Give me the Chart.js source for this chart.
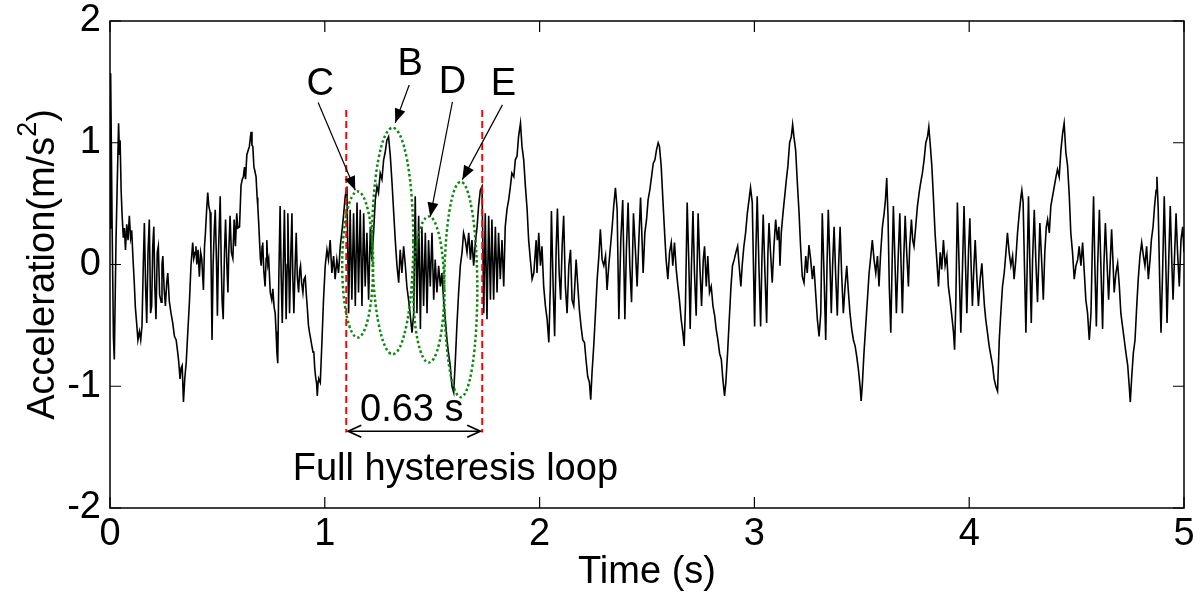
<!DOCTYPE html>
<html>
<head>
<meta charset="utf-8">
<script src="https://cdn.jsdelivr.net/npm/chart.js@4.4.1/dist/chart.umd.min.js"></script>
<style>
html,body{margin:0;padding:0;background:#fff;}
#wrap{width:1200px;height:595px;position:relative;}
</style>
</head>
<body>
<div id="wrap"><canvas id="c" width="1200" height="595"></canvas></div>
<script>
// ---- Data: [time (s), acceleration (m/s^2)] ----
const accel_0to1s = [[0.000,0.30],[0.003,1.57],[0.010,0.30],[0.016,-0.60],[0.020,-0.78],[0.028,0.20],[0.036,0.85],[0.040,1.16],[0.044,0.90],[0.047,1.02],[0.052,0.60],[0.056,0.42],[0.062,0.22],[0.067,0.30],[0.072,0.12],[0.078,0.33],[0.084,0.20],[0.090,0.40],[0.096,0.22],[0.101,0.28],[0.107,0.05],[0.113,-0.15],[0.118,-0.35],[0.124,-0.48],[0.130,-0.62],[0.137,-0.55],[0.143,-0.62],[0.149,-0.50],[0.155,0.00],[0.160,0.34],[0.166,-0.20],[0.171,-0.48],[0.177,0.10],[0.183,0.37],[0.189,-0.40],[0.194,-0.34],[0.199,0.15],[0.204,0.31],[0.209,-0.20],[0.214,-0.45],[0.220,0.10],[0.225,0.15],[0.231,-0.25],[0.238,-0.31],[0.242,0.00],[0.246,0.07],[0.252,-0.20],[0.258,-0.34],[0.264,-0.15],[0.269,-0.07],[0.276,-0.30],[0.284,-0.40],[0.292,-0.48],[0.300,-0.59],[0.308,-0.62],[0.315,-0.72],[0.320,-0.80],[0.326,-0.94],[0.331,-0.85],[0.336,-0.83],[0.342,-1.13],[0.348,-0.94],[0.355,-0.80],[0.362,-0.56],[0.370,-0.30],[0.377,-0.01],[0.385,0.18],[0.390,0.05],[0.396,0.10],[0.400,0.15],[0.404,0.00],[0.410,0.12],[0.416,-0.10],[0.422,0.10],[0.427,0.05],[0.435,-0.21],[0.440,0.15],[0.444,0.25],[0.450,0.45],[0.455,0.59],[0.460,0.48],[0.466,0.43],[0.470,0.10],[0.475,-0.62],[0.480,0.00],[0.486,0.31],[0.490,0.45],[0.496,0.00],[0.500,-0.42],[0.505,0.10],[0.513,0.56],[0.518,0.00],[0.522,-0.30],[0.527,-0.45],[0.533,0.10],[0.538,0.37],[0.544,0.00],[0.549,-0.23],[0.553,0.10],[0.559,0.40],[0.565,0.10],[0.572,0.05],[0.578,0.37],[0.584,0.15],[0.590,0.42],[0.595,0.30],[0.603,0.31],[0.610,0.65],[0.616,0.70],[0.621,0.72],[0.626,0.80],[0.631,0.70],[0.637,0.90],[0.642,0.93],[0.649,0.97],[0.654,1.05],[0.657,1.09],[0.661,0.98],[0.665,0.97],[0.670,0.80],[0.673,0.78],[0.680,0.72],[0.685,0.55],[0.688,0.48],[0.692,0.35],[0.696,0.20],[0.700,0.05],[0.704,-0.01],[0.708,0.15],[0.711,0.18],[0.716,-0.05],[0.722,-0.18],[0.727,0.05],[0.730,0.20],[0.735,0.00],[0.739,0.04],[0.746,-0.23],[0.753,-0.29],[0.758,-0.20],[0.764,-0.35],[0.769,-0.40],[0.773,-0.55],[0.777,-0.72],[0.781,-0.81],[0.786,-0.10],[0.792,0.48],[0.797,-0.10],[0.802,-0.48],[0.807,0.00],[0.812,0.45],[0.816,0.00],[0.820,-0.45],[0.825,0.00],[0.828,0.42],[0.832,0.00],[0.836,-0.40],[0.842,0.10],[0.847,0.42],[0.851,-0.10],[0.856,-0.40],[0.862,0.00],[0.867,0.26],[0.872,-0.10],[0.878,-0.23],[0.883,-0.05],[0.887,-0.01],[0.892,-0.15],[0.898,-0.23],[0.903,-0.12],[0.909,-0.10],[0.914,-0.25],[0.918,-0.34],[0.924,-0.50],[0.929,-0.56],[0.935,-0.62],[0.940,-0.67],[0.945,-0.72],[0.949,-0.72],[0.953,-0.85],[0.957,-0.92],[0.962,-0.98],[0.965,-1.08],[0.969,-0.96],[0.972,-0.94]];
const accel_1to2s = [[0.979,-0.97],[0.987,-0.62],[0.994,-0.29],[1.002,-0.01],[1.010,0.12],[1.017,0.04],[1.025,0.20],[1.033,-0.07],[1.041,0.07],[1.048,-0.12],[1.056,0.04],[1.064,-0.07],[1.072,0.15],[1.079,0.26],[1.087,0.40],[1.095,0.56],[1.103,0.64],[1.111,-0.40],[1.118,0.45],[1.126,-0.29],[1.134,0.42],[1.142,-0.34],[1.150,0.51],[1.157,-0.23],[1.165,0.45],[1.173,-0.34],[1.181,0.42],[1.188,-0.18],[1.196,0.26],[1.204,-0.29],[1.212,0.31],[1.219,0.04],[1.227,0.26],[1.235,0.53],[1.243,0.64],[1.250,0.59],[1.258,0.75],[1.266,0.70],[1.274,0.86],[1.281,0.92],[1.289,1.02],[1.297,1.05],[1.305,0.89],[1.313,0.67],[1.320,0.45],[1.328,0.20],[1.336,-0.01],[1.344,-0.15],[1.351,0.12],[1.359,-0.07],[1.367,0.15],[1.375,-0.01],[1.382,-0.18],[1.390,-0.29],[1.398,-0.42],[1.406,-0.56],[1.414,-0.40],[1.421,0.56],[1.429,-0.40],[1.437,0.40],[1.445,-0.53],[1.452,0.31],[1.460,-0.34],[1.468,0.26],[1.476,-0.40],[1.483,0.20],[1.491,-0.18],[1.499,0.26],[1.507,-0.29],[1.514,0.04],[1.522,-0.23],[1.530,-0.01],[1.538,-0.18],[1.545,-0.07],[1.553,-0.29],[1.561,-0.45],[1.569,-0.62],[1.576,-0.73],[1.584,-0.83],[1.592,-1.00],[1.600,-1.05],[1.608,-0.78],[1.615,-0.50],[1.623,-0.23],[1.631,-0.01],[1.639,0.10],[1.646,0.26],[1.654,0.20],[1.662,0.10],[1.670,0.26],[1.678,0.04],[1.685,0.20],[1.693,-0.01],[1.701,0.18],[1.709,0.31],[1.716,0.48],[1.724,0.61],[1.732,0.64],[1.740,-0.40],[1.747,0.42],[1.755,-0.45],[1.763,0.40],[1.771,-0.29],[1.778,0.37],[1.786,-0.29],[1.794,0.31],[1.802,-0.23],[1.809,0.26],[1.817,-0.12],[1.825,0.20],[1.833,-0.18],[1.840,0.31],[1.848,0.45],[1.856,0.53],[1.864,0.64],[1.871,0.75],[1.880,0.72],[1.887,0.86],[1.895,0.89],[1.902,1.05],[1.911,1.16],[1.918,0.97],[1.926,0.86],[1.934,0.64],[1.942,0.45],[1.949,0.20],[1.957,0.04],[1.965,-0.12],[1.973,-0.07]];
const accel_2to3s = [[1.984,0.20],[1.988,-0.07],[1.996,0.26],[2.004,-0.01],[2.011,0.15],[2.019,-0.18],[2.027,-0.34],[2.035,-0.45],[2.043,-0.64],[2.050,-0.18],[2.055,0.44],[2.063,-0.18],[2.070,-0.59],[2.077,0.12],[2.083,0.46],[2.091,-0.07],[2.098,-0.29],[2.105,0.15],[2.112,0.40],[2.120,-0.18],[2.128,-0.40],[2.136,-0.01],[2.144,0.12],[2.151,-0.29],[2.159,-0.34],[2.170,0.04],[2.178,-0.18],[2.185,-0.37],[2.193,-0.51],[2.201,-0.62],[2.209,-0.64],[2.216,-0.78],[2.224,-0.92],[2.232,-0.97],[2.238,-1.11],[2.244,-0.89],[2.252,-0.67],[2.260,-0.40],[2.268,-0.12],[2.276,0.07],[2.283,0.29],[2.291,0.04],[2.299,-0.01],[2.307,0.07],[2.314,-0.21],[2.322,-0.01],[2.330,0.15],[2.338,0.31],[2.345,0.48],[2.353,0.63],[2.361,0.45],[2.369,-0.45],[2.378,0.20],[2.387,0.53],[2.397,-0.45],[2.404,0.12],[2.412,0.51],[2.420,-0.01],[2.428,-0.31],[2.437,0.42],[2.446,0.12],[2.454,-0.18],[2.462,0.20],[2.470,0.55],[2.477,0.20],[2.482,-0.07],[2.490,0.26],[2.498,0.37],[2.505,0.53],[2.513,0.61],[2.521,0.72],[2.529,0.83],[2.537,0.86],[2.544,0.94],[2.552,1.00],[2.558,0.97],[2.566,0.81],[2.574,0.53],[2.582,0.26],[2.589,0.04],[2.597,-0.12],[2.605,0.10],[2.613,0.18],[2.620,-0.01],[2.628,0.18],[2.636,-0.04],[2.644,-0.18],[2.651,-0.29],[2.659,-0.45],[2.667,-0.56],[2.673,-0.67],[2.679,-0.34],[2.687,0.51],[2.695,-0.01],[2.701,-0.53],[2.707,-0.01],[2.714,0.44],[2.721,-0.07],[2.729,-0.42],[2.738,0.42],[2.746,-0.01],[2.754,-0.34],[2.762,0.04],[2.768,0.15],[2.776,-0.18],[2.783,0.07],[2.791,-0.23],[2.799,-0.18],[2.807,-0.34],[2.815,-0.42],[2.822,-0.53],[2.830,-0.62],[2.838,-0.73],[2.846,-0.78],[2.853,-0.94],[2.861,-1.08],[2.867,-0.97],[2.875,-0.73],[2.883,-0.45],[2.891,-0.18],[2.898,-0.01],[2.906,0.04],[2.914,0.10],[2.922,0.15],[2.929,-0.01],[2.937,-0.18],[2.943,-0.01],[2.951,0.15],[2.959,0.26],[2.967,0.42],[2.975,0.53],[2.982,0.63],[2.990,0.51]];
const accel_3to4s = [[3.001,-0.51],[3.007,0.12],[3.013,0.56],[3.021,-0.01],[3.029,-0.51],[3.035,0.04],[3.041,0.41],[3.049,-0.07],[3.057,-0.48],[3.063,0.10],[3.068,0.34],[3.075,0.10],[3.083,-0.15],[3.091,0.15],[3.099,0.37],[3.107,0.20],[3.114,0.31],[3.119,-0.01],[3.125,0.26],[3.133,0.42],[3.141,0.56],[3.149,0.70],[3.156,0.81],[3.164,1.00],[3.172,1.05],[3.178,1.15],[3.184,1.05],[3.192,0.94],[3.200,0.67],[3.208,0.42],[3.215,0.15],[3.223,-0.10],[3.231,-0.15],[3.239,0.07],[3.246,-0.07],[3.254,0.16],[3.262,0.04],[3.270,-0.12],[3.277,-0.01],[3.285,-0.23],[3.293,-0.45],[3.301,-0.59],[3.309,-0.40],[3.316,0.42],[3.324,-0.07],[3.332,-0.62],[3.338,-0.01],[3.344,0.45],[3.352,-0.01],[3.358,-0.40],[3.364,-0.01],[3.371,0.31],[3.378,-0.07],[3.386,-0.42],[3.392,-0.01],[3.399,0.31],[3.406,-0.07],[3.414,-0.40],[3.422,-0.18],[3.430,-0.01],[3.437,-0.21],[3.445,-0.40],[3.453,-0.53],[3.461,-0.62],[3.469,-0.67],[3.476,-0.75],[3.484,-0.86],[3.492,-1.00],[3.497,-1.12],[3.503,-0.97],[3.510,-0.73],[3.518,-0.51],[3.526,-0.29],[3.534,-0.07],[3.542,0.07],[3.549,0.20],[3.557,0.04],[3.565,-0.07],[3.573,0.07],[3.580,-0.18],[3.588,0.10],[3.596,0.31],[3.604,0.42],[3.610,0.53],[3.616,0.71],[3.622,0.40],[3.628,-0.18],[3.635,-0.56],[3.641,-0.01],[3.647,0.48],[3.655,-0.01],[3.661,-0.40],[3.669,0.04],[3.677,0.42],[3.683,-0.01],[3.689,-0.40],[3.695,0.04],[3.702,0.40],[3.709,0.10],[3.717,-0.18],[3.723,0.15],[3.731,0.37],[3.737,0.20],[3.743,0.15],[3.751,0.31],[3.759,0.48],[3.767,0.59],[3.774,0.67],[3.782,0.75],[3.790,0.86],[3.798,1.00],[3.806,1.05],[3.812,1.13],[3.818,1.00],[3.826,0.81],[3.834,0.53],[3.841,0.26],[3.849,0.04],[3.857,-0.18],[3.865,0.10],[3.872,-0.04],[3.880,0.20],[3.888,-0.01],[3.896,0.07],[3.903,-0.18],[3.911,-0.29],[3.919,-0.42],[3.927,-0.56],[3.932,-0.70],[3.938,-0.29],[3.945,0.51],[3.953,-0.01],[3.961,-0.56],[3.969,-0.01],[3.976,0.48],[3.983,-0.01],[3.989,-0.40],[3.997,0.12]];
const accel_4to5s = [[4.003,0.38],[4.009,-0.01],[4.015,-0.34],[4.022,-0.01],[4.028,0.20],[4.036,-0.12],[4.043,-0.34],[4.051,-0.12],[4.059,0.01],[4.065,-0.18],[4.071,-0.34],[4.077,-0.45],[4.085,-0.56],[4.093,-0.67],[4.101,-0.75],[4.109,-0.83],[4.116,-0.94],[4.124,-1.00],[4.132,-1.04],[4.140,-0.62],[4.147,-0.40],[4.155,-0.18],[4.163,-0.07],[4.171,0.10],[4.178,0.26],[4.186,0.10],[4.194,-0.01],[4.202,0.07],[4.209,-0.12],[4.217,0.04],[4.225,0.26],[4.233,0.42],[4.241,0.56],[4.245,0.61],[4.251,0.51],[4.258,-0.07],[4.264,-0.56],[4.270,-0.01],[4.276,0.56],[4.282,0.04],[4.289,-0.48],[4.295,0.04],[4.303,0.45],[4.310,0.04],[4.318,-0.31],[4.324,0.04],[4.329,0.34],[4.337,0.04],[4.345,-0.29],[4.352,0.10],[4.359,0.31],[4.365,0.37],[4.373,0.26],[4.380,0.48],[4.388,0.56],[4.396,0.64],[4.404,0.72],[4.411,0.78],[4.419,0.72],[4.427,0.94],[4.435,1.08],[4.442,1.16],[4.450,0.92],[4.458,0.81],[4.466,0.56],[4.473,0.26],[4.481,0.10],[4.489,-0.12],[4.497,-0.01],[4.505,0.04],[4.512,0.15],[4.520,-0.01],[4.528,0.18],[4.536,-0.07],[4.543,-0.29],[4.551,-0.40],[4.559,-0.62],[4.567,-0.40],[4.573,0.12],[4.579,0.56],[4.585,-0.01],[4.592,-0.51],[4.598,-0.01],[4.606,0.45],[4.613,-0.01],[4.621,-0.53],[4.627,-0.01],[4.634,0.34],[4.641,0.04],[4.649,-0.29],[4.657,0.04],[4.663,0.29],[4.669,0.04],[4.675,-0.23],[4.683,-0.07],[4.691,0.01],[4.699,-0.18],[4.706,-0.40],[4.714,-0.51],[4.722,-0.62],[4.730,-0.73],[4.738,-0.83],[4.745,-1.00],[4.750,-1.13],[4.756,-0.94],[4.764,-0.73],[4.772,-0.62],[4.780,-0.34],[4.787,-0.12],[4.795,0.07],[4.803,0.18],[4.811,0.07],[4.818,-0.01],[4.826,0.15],[4.834,-0.12],[4.842,0.04],[4.848,0.20],[4.856,0.31],[4.863,0.48],[4.870,0.61],[4.874,0.72],[4.880,0.45],[4.887,-0.15],[4.893,-0.56],[4.901,-0.01],[4.908,0.56],[4.915,0.04],[4.921,-0.48],[4.929,0.04],[4.936,0.48],[4.943,0.04],[4.949,-0.29],[4.957,0.12],[4.963,0.42],[4.970,0.10],[4.978,-0.18],[4.986,0.20],[4.994,0.31],[5.000,0.10]];

const xTickValues = [0, 1, 2, 3, 4, 5];
const yTickValues = [-2, -1, 0, 1, 2];
const xAxisTitle = 'Time (s)';
const yAxisTitleMain = 'Acceleration(m/s';
const yAxisTitleSup = '2';
const yAxisTitleEnd = ')';

// ---- Annotation values (in data units: time s, acceleration m/s^2) ----
const loopBounds = [1.10, 1.733];          // red dashed lines
const loopLineSpan = [1.27, -1.38];        // vertical extent of red lines
const periodArrowLevel = -1.37;            // double arrow
const periodLabel = { text: '0.63 s', t: 1.405, a: -1.287 };
const loopCaption = { text: 'Full hysteresis loop', t: 1.608, a: -1.77 };
const stageNames = ['C', 'B', 'D', 'E'];
const stageTextAt = [[0.979, 1.393], [1.398, 1.557], [1.594, 1.41], [1.831, 1.393]];
const stageArrowFrom = [[0.969, 1.33], [1.393, 1.475], [1.594, 1.336], [1.827, 1.311]];
const stageArrowTo = [[1.142, 0.61], [1.328, 1.164], [1.491, 0.393], [1.640, 0.697]];
const stageEllipses = [[1.153, 0.0, 0.072, 0.60], [1.316, 0.193, 0.096, 0.93], [1.484, -0.205, 0.072, 0.60], [1.633, -0.205, 0.077, 0.885]];

const FONT = "'Liberation Sans', Arial, Helvetica, sans-serif";

const allPoints = [].concat(accel_0to1s, accel_1to2s, accel_2to3s, accel_3to4s, accel_4to5s)
  .map(p => ({ x: p[0], y: p[1] }));

function arrowHead(ctx, x1, y1, x2, y2, len, half, filled) {
  const ang = Math.atan2(y2 - y1, x2 - x1);
  const bx = x2 - len * Math.cos(ang), by = y2 - len * Math.sin(ang);
  const px = -Math.sin(ang) * half, py = Math.cos(ang) * half;
  ctx.beginPath();
  ctx.moveTo(bx + px, by + py);
  ctx.lineTo(x2, y2);
  ctx.lineTo(bx - px, by - py);
  if (filled) { ctx.closePath(); ctx.fill(); } else { ctx.stroke(); }
}

const framePlugin = {
  id: 'frameAndNotes',
  afterDatasetsDraw(chart) {
    const { ctx, chartArea: ca, scales: { x, y } } = chart;
    ctx.save();
    // box
    ctx.strokeStyle = '#000';
    ctx.lineWidth = 1.5;
    ctx.setLineDash([]);
    ctx.strokeRect(ca.left, ca.top, ca.right - ca.left, ca.bottom - ca.top);
    // inward ticks on all four sides
    ctx.lineWidth = 1.2;
    const tl = 11;
    xTickValues.forEach(v => {
      const px = x.getPixelForValue(v);
      ctx.beginPath();
      ctx.moveTo(px, ca.bottom); ctx.lineTo(px, ca.bottom - tl);
      ctx.moveTo(px, ca.top); ctx.lineTo(px, ca.top + tl);
      ctx.stroke();
    });
    yTickValues.forEach(v => {
      const py = y.getPixelForValue(v);
      ctx.beginPath();
      ctx.moveTo(ca.left, py); ctx.lineTo(ca.left + tl, py);
      ctx.moveTo(ca.right, py); ctx.lineTo(ca.right - tl, py);
      ctx.stroke();
    });

    // red dashed loop bounds
    ctx.strokeStyle = '#ff0000';
    ctx.lineWidth = 2;
    ctx.setLineDash([7, 4]);
    loopBounds.forEach(t => {
      const px = x.getPixelForValue(t);
      ctx.beginPath();
      ctx.moveTo(px, y.getPixelForValue(loopLineSpan[0]));
      ctx.lineTo(px, y.getPixelForValue(loopLineSpan[1]));
      ctx.stroke();
    });

    // green dotted ellipses
    ctx.strokeStyle = '#0a8a0a';
    ctx.lineWidth = 2.5;
    ctx.setLineDash([2.5, 2.5]);
    stageEllipses.forEach(e => {
      const cx = x.getPixelForValue(e[0]), cy = y.getPixelForValue(e[1]);
      const rx = Math.abs(x.getPixelForValue(e[0] + e[2]) - cx);
      const ry = Math.abs(y.getPixelForValue(e[1] + e[3]) - cy);
      ctx.beginPath();
      ctx.ellipse(cx, cy, rx, ry, 0, 0, Math.PI * 2);
      ctx.stroke();
    });

    // stage arrows
    ctx.setLineDash([]);
    ctx.strokeStyle = '#000';
    ctx.fillStyle = '#000';
    ctx.lineWidth = 1.2;
    stageArrowFrom.forEach((f, i) => {
      const x1 = x.getPixelForValue(f[0]), y1 = y.getPixelForValue(f[1]);
      const x2 = x.getPixelForValue(stageArrowTo[i][0]), y2 = y.getPixelForValue(stageArrowTo[i][1]);
      ctx.beginPath(); ctx.moveTo(x1, y1); ctx.lineTo(x2, y2); ctx.stroke();
      arrowHead(ctx, x1, y1, x2, y2, 14, 5.5, true);
    });

    // double arrow for period
    const ay = y.getPixelForValue(periodArrowLevel);
    const ax1 = x.getPixelForValue(loopBounds[0]) + 2, ax2 = x.getPixelForValue(loopBounds[1]) - 2;
    ctx.lineWidth = 1.5;
    ctx.beginPath(); ctx.moveTo(ax1, ay); ctx.lineTo(ax2, ay); ctx.stroke();
    ctx.lineWidth = 1.8;
    arrowHead(ctx, ax2, ay, ax1, ay, 13, 6, false);
    arrowHead(ctx, ax1, ay, ax2, ay, 13, 6, false);

    // texts
    ctx.fillStyle = '#000';
    ctx.font = '38px ' + FONT;
    ctx.textAlign = 'center';
    ctx.textBaseline = 'alphabetic';
    stageNames.forEach((s, i) => {
      ctx.fillText(s, x.getPixelForValue(stageTextAt[i][0]), y.getPixelForValue(stageTextAt[i][1]));
    });
    ctx.fillText(periodLabel.text, x.getPixelForValue(periodLabel.t), y.getPixelForValue(periodLabel.a));
    ctx.fillText(loopCaption.text, x.getPixelForValue(loopCaption.t), y.getPixelForValue(loopCaption.a));

    // y-axis title with superscript, rotated
    const cyT = (ca.top + ca.bottom) / 2;
    ctx.translate(44, cyT);
    ctx.rotate(-Math.PI / 2);
    ctx.textBaseline = 'middle';
    ctx.textAlign = 'left';
    ctx.font = '38px ' + FONT;
    const w1 = ctx.measureText(yAxisTitleMain).width;
    const w3 = ctx.measureText(yAxisTitleEnd).width;
    ctx.font = '27px ' + FONT;
    const w2 = ctx.measureText(yAxisTitleSup).width;
    const total = w1 + w2 + w3;
    let sx = -total / 2;
    ctx.font = '38px ' + FONT;
    ctx.fillText(yAxisTitleMain, sx, 0);
    sx += w1;
    ctx.font = '27px ' + FONT;
    ctx.fillText(yAxisTitleSup, sx, -15);
    sx += w2;
    ctx.font = '38px ' + FONT;
    ctx.fillText(yAxisTitleEnd, sx, 0);
    ctx.restore();
  }
};

new Chart(document.getElementById('c'), {
  type: 'line',
  data: {
    datasets: [{
      label: 'Acceleration',
      data: allPoints,
      borderColor: '#000',
      borderWidth: 1.6,
      pointRadius: 0,
      tension: 0,
      fill: false
    }]
  },
  options: {
    responsive: false,
    animation: false,
    devicePixelRatio: 1,
    layout: { padding: { top: 0, right: 0, left: 0, bottom: 0 } },
    plugins: { legend: { display: false }, tooltip: { enabled: false } },
    scales: {
      x: {
        type: 'linear', min: 0, max: 5,
        afterBuildTicks: s => { s.ticks = xTickValues.map(v => ({ value: v })); },
        afterFit: s => { s.height = 87; s.paddingLeft = 0; s.paddingRight = 16; },
        grid: { display: false, drawTicks: false },
        border: { display: false },
        ticks: { font: { family: FONT, size: 38 }, color: '#000', padding: 4, maxRotation: 0, autoSkip: false },
        title: { display: true, text: xAxisTitle, font: { family: FONT, size: 38 }, color: '#000', padding: { top: 0, bottom: 0 } }
      },
      y: {
        type: 'linear', min: -2, max: 2,
        afterBuildTicks: s => { s.ticks = yTickValues.map(v => ({ value: v })); },
        afterFit: s => { s.width = 110; s.paddingTop = 21; s.paddingBottom = 0; },
        grid: { display: false, drawTicks: false },
        border: { display: false },
        ticks: { font: { family: FONT, size: 38 }, color: '#000', padding: 9, autoSkip: false },
        title: { display: false }
      }
    }
  },
  plugins: [framePlugin]
});
</script>
</body>
</html>
